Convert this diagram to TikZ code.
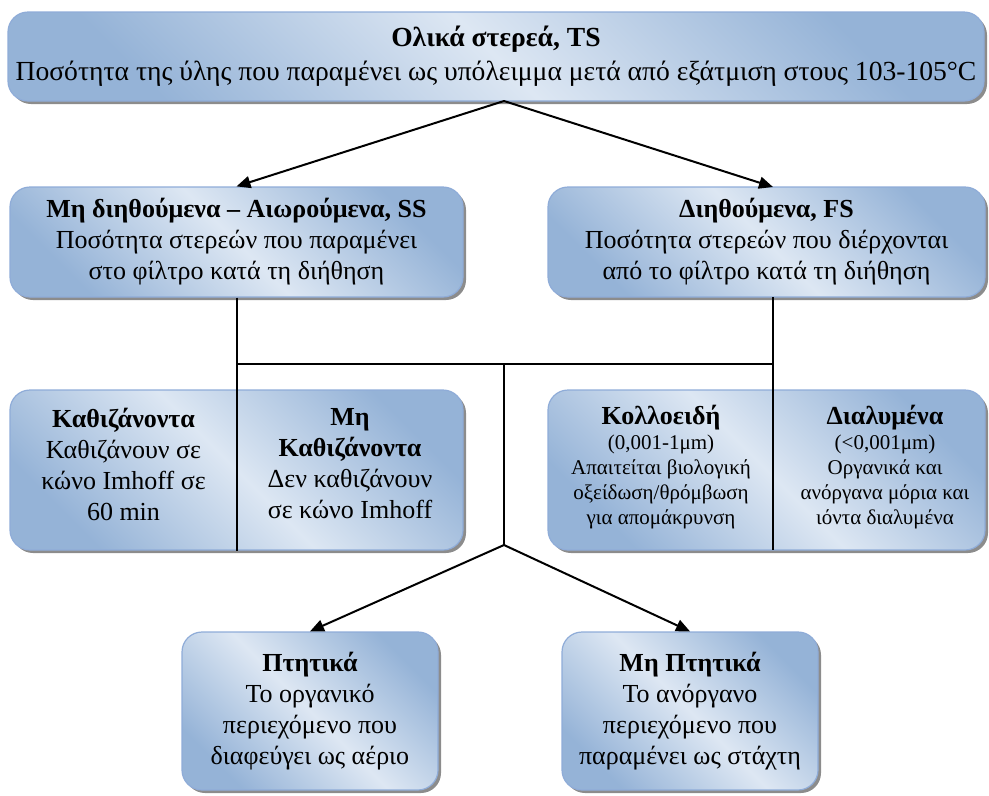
\documentclass[tikz,border=0pt]{standalone}
\usepackage{fontspec}
\setmainfont{Liberation Serif}
\usetikzlibrary{arrows.meta,shadows,calc}
\definecolor{boxdark}{HTML}{95B3D7}
\definecolor{boxlight}{HTML}{DDE7F3}
\definecolor{boxedge}{HTML}{8FACD8}
\tikzset{
  box/.style={rounded corners=20pt, draw=boxedge, line width=1.2pt,
    top color=boxdark, bottom color=boxdark, middle color=boxlight, shading angle=-45,
    drop shadow={shadow xshift=3pt,shadow yshift=-3pt,fill=black!45,opacity=1},
    inner sep=0pt, align=center, font=\fontsize{26}{31}\selectfont},
  txt/.style={inner sep=0pt, align=center, font=\fontsize{26}{31}\selectfont},
  small/.style={inner sep=0pt, align=center, font=\fontsize{21}{25}\selectfont},
  conn/.style={line width=2pt, black},
  arr/.style={conn, -{Triangle[length=14pt,width=12pt]}}
}
\begin{document}
\begin{tikzpicture}[x=1pt,y=-1pt]
\useasboundingbox (0,0) rectangle (989,796);
% boxes
\node[box, minimum width=976pt, minimum height=89pt, font=\fontsize{27.6}{34}\selectfont] (TS) at (496,56.5)
  {\textbf{Ολικά στερεά, TS}\\Ποσότητα της ύλης που παραμένει ως υπόλειμμα μετά από εξάτμιση στους 103-105°C};
\node[box, minimum width=453pt, minimum height=110pt] (SS) at (236.5,242)
  {\textbf{Μη διηθούμενα – Αιωρούμενα, SS}\\Ποσότητα στερεών που παραμένει\\στο φίλτρο κατά τη διήθηση};
\node[box, minimum width=437pt, minimum height=110pt] (FS) at (766.5,242)
  {\textbf{Διηθούμενα, FS}\\Ποσότητα στερεών που διέρχονται\\από το φίλτρο κατά τη διήθηση};
\node[box, minimum width=453pt, minimum height=160pt] (RL) at (236.5,470) {};
\node[box, minimum width=437pt, minimum height=160pt] (RR) at (766.5,470) {};
\node[box, minimum width=256pt, minimum height=158pt] (PT) at (310,711)
  {\textbf{Πτητικά}\\Το οργανικό\\περιεχόμενο που\\διαφεύγει ως αέριο};
\node[box, minimum width=256pt, minimum height=158pt] (MPT) at (690,711)
  {\textbf{Μη Πτητικά}\\Το ανόργανο\\περιεχόμενο που\\παραμένει ως στάχτη};
% texts inside the split boxes
\node[txt] (KA) at (123.5,464) {\textbf{Καθιζάνοντα}\\Καθιζάνουν σε\\κώνο Imhoff σε\\60 min};
\node[txt] (MKA) at (350,464) {\textbf{Μη}\\\textbf{Καθιζάνοντα}\\Δεν καθιζάνουν\\σε κώνο Imhoff};
\node[small] (KO) at (661,467) {{\fontsize{26}{31}\selectfont\textbf{Κολλοειδή}}\\(0,001-1μm)\\Απαιτείται βιολογική\\οξείδωση/θρόμβωση\\για απομάκρυνση};
\node[small] (DI) at (885,467) {{\fontsize{26}{31}\selectfont\textbf{Διαλυμένα}}\\(<0,001μm)\\Οργανικά και\\ανόργανα μόρια και\\ιόντα διαλυμένα};
% coordinates
\coordinate (apex) at (504,101);
\coordinate (fsIn) at (773,187);
\coordinate (fsOut) at (773,297);
\coordinate (fsEnd) at (773,550);
\coordinate (hl) at (236.5,364);
\coordinate (hr) at (773,364);
\coordinate (hc) at (504,364);
\coordinate (J) at (504,545);
% connectors
\draw[arr] (apex) -- (SS.north);
\draw[arr] (apex) -- (fsIn);
\draw[conn] (SS.south) -- (RL.south);
\draw[conn] (fsOut) -- (fsEnd);
\draw[conn] (hl) -- (hr);
\draw[conn] (hc) -- (J);
\draw[arr] (J) -- (PT.north);
\draw[arr] (J) -- (MPT.north);
\end{tikzpicture}
\end{document}
